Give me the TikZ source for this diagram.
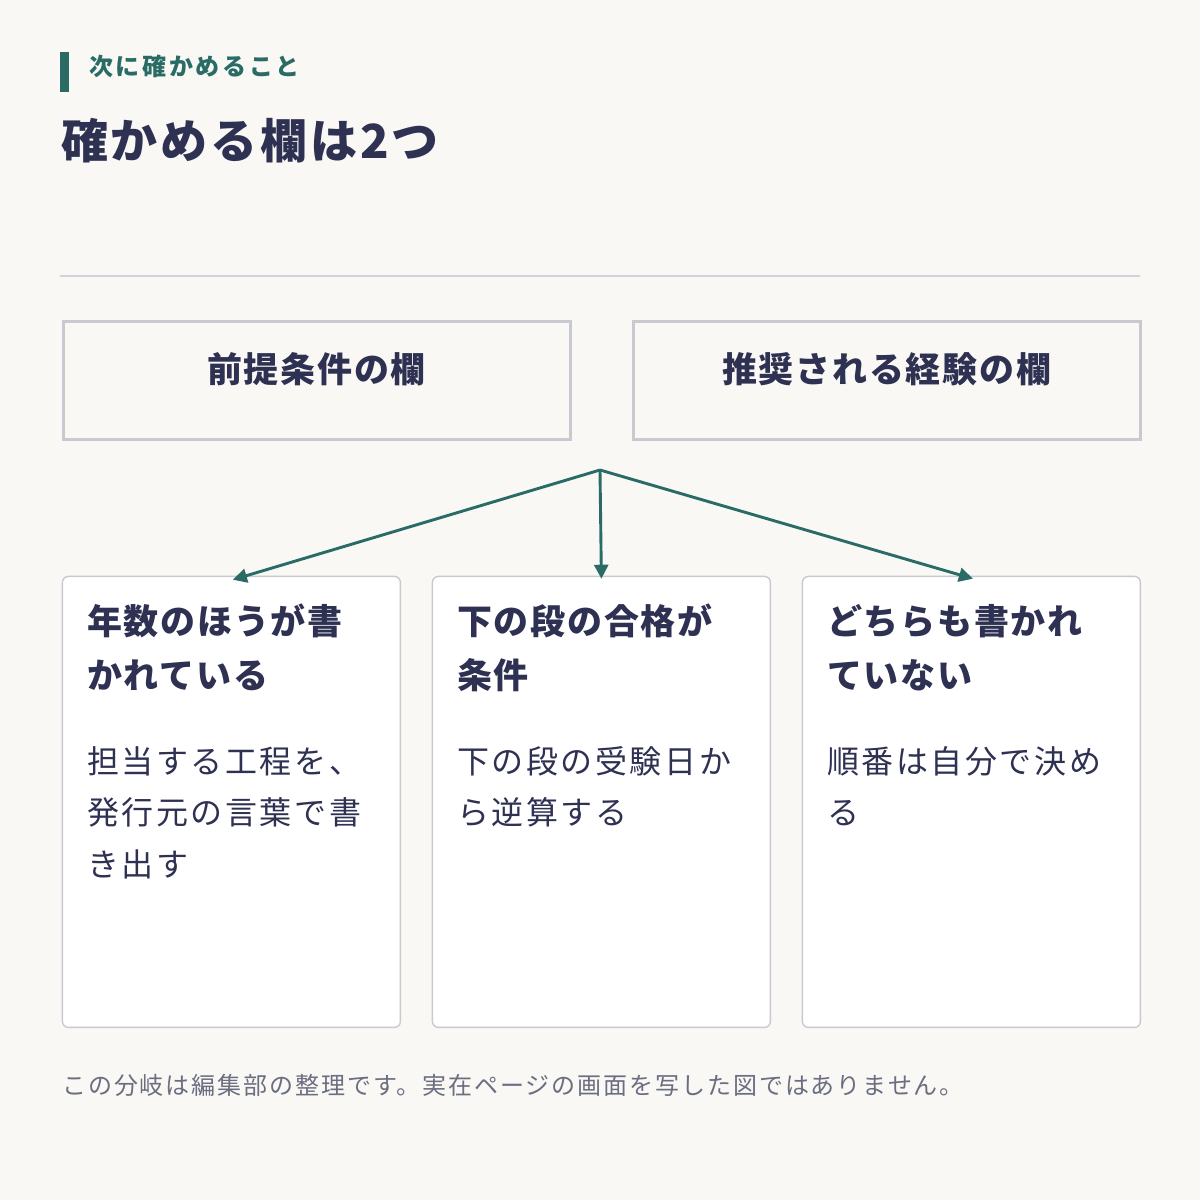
\documentclass[tikz,border=0pt]{standalone}
\usepackage{fontspec}
\setmainfont{Noto Sans CJK JP}
\usetikzlibrary{arrows.meta}
\definecolor{bg}{HTML}{F9F8F4}
\definecolor{navy}{HTML}{2E3152}
\definecolor{teal}{HTML}{2A6B66}
\definecolor{frame}{HTML}{C9C9D1}
\definecolor{rule}{HTML}{D2D2D8}
\definecolor{note}{HTML}{6B6E80}
\begin{document}
\begin{tikzpicture}[x=1pt,y=-1pt,
  colbox/.style={draw=frame,line width=2.5pt,fill=bg,minimum width=507pt,minimum height=118pt,anchor=north west,inner sep=0pt},
  colhead/.style={text=navy,font=\fontsize{35}{40}\selectfont\addfontfeature{LetterSpace=5}\bfseries,inner sep=0pt},
  card/.style={draw=frame,line width=1.4pt,fill=white,rounded corners=6pt,minimum width=338pt,minimum height=451pt,anchor=north west,inner sep=0pt},
  cardtitle/.style={text=navy,font=\fontsize{35}{54}\selectfont\addfontfeature{LetterSpace=5}\bfseries,align=left,anchor=north west,inner sep=0pt},
  cardbody/.style={text=navy,font=\fontsize{32}{51.5}\selectfont\addfontfeature{LetterSpace=8},align=left,anchor=north west,inner sep=0pt},
  branch/.style={draw=teal,line width=2.9pt,-{Triangle[length=14pt,width=14pt]}}]
\fill[bg] (0,0) rectangle (1200,1200);
\useasboundingbox (0,0) rectangle (1200,1200);
% header
\fill[teal] (60,52) rectangle (69,92);
\node[anchor=west,inner sep=0pt,text=teal,font=\fontsize{24}{28}\selectfont\addfontfeature{LetterSpace=11}\bfseries] (kicker) at (89,66) {次に確かめること};
\node[anchor=west,inner sep=0pt,text=navy,font=\fontsize{47}{52}\selectfont\addfontfeature{LetterSpace=6}\bfseries] (title) at (61,141) {確かめる欄は2つ};
\draw[rule,line width=1.5pt] (60,276) -- (1140,276);
% column boxes
\node[colbox] (boxA) at (62.25,320.25) {};
\node[colbox] (boxB) at (632.25,320.25) {};
\node[colhead] (headA) at (316.5,369) {前提条件の欄};
\node[colhead] (headB) at (886.5,369) {推奨される経験の欄};
% cards
\node[card] (c1) at (61.7,575.7) {};
\node[card] (c2) at (431.7,575.7) {};
\node[card] (c3) at (801.7,575.7) {};
\node[cardtitle] (t1) at (87,604) {年数のほうが書\\かれている};
\node[cardtitle] (t2) at (457,604) {下の段の合格が\\条件};
\node[cardtitle] (t3) at (827,604) {どちらも書かれ\\ていない};
\node[cardbody] (b1) at (87,746) {担当する工程を、\\発行元の言葉で書\\き出す};
\node[cardbody] (b2) at (457,746) {下の段の受験日か\\ら逆算する};
\node[cardbody] (b3) at (827,746) {順番は自分で決め\\る};
% branches
\coordinate (src) at (600,470);
\draw[branch] (src) -- ([xshift=1.5pt,yshift=-4pt]c1.north);
\draw[branch] (src) -- ([yshift=-3pt]c2.north);
\draw[branch] (src) -- ([xshift=1.5pt,yshift=-3pt]c3.north);
% footer
\node[anchor=west,inner sep=0pt,text=note,font=\fontsize{24}{28}\selectfont\addfontfeature{LetterSpace=8}] (foot) at (62,1085) {この分岐は編集部の整理です。実在ページの画面を写した図ではありません。};
\end{tikzpicture}
\end{document}
